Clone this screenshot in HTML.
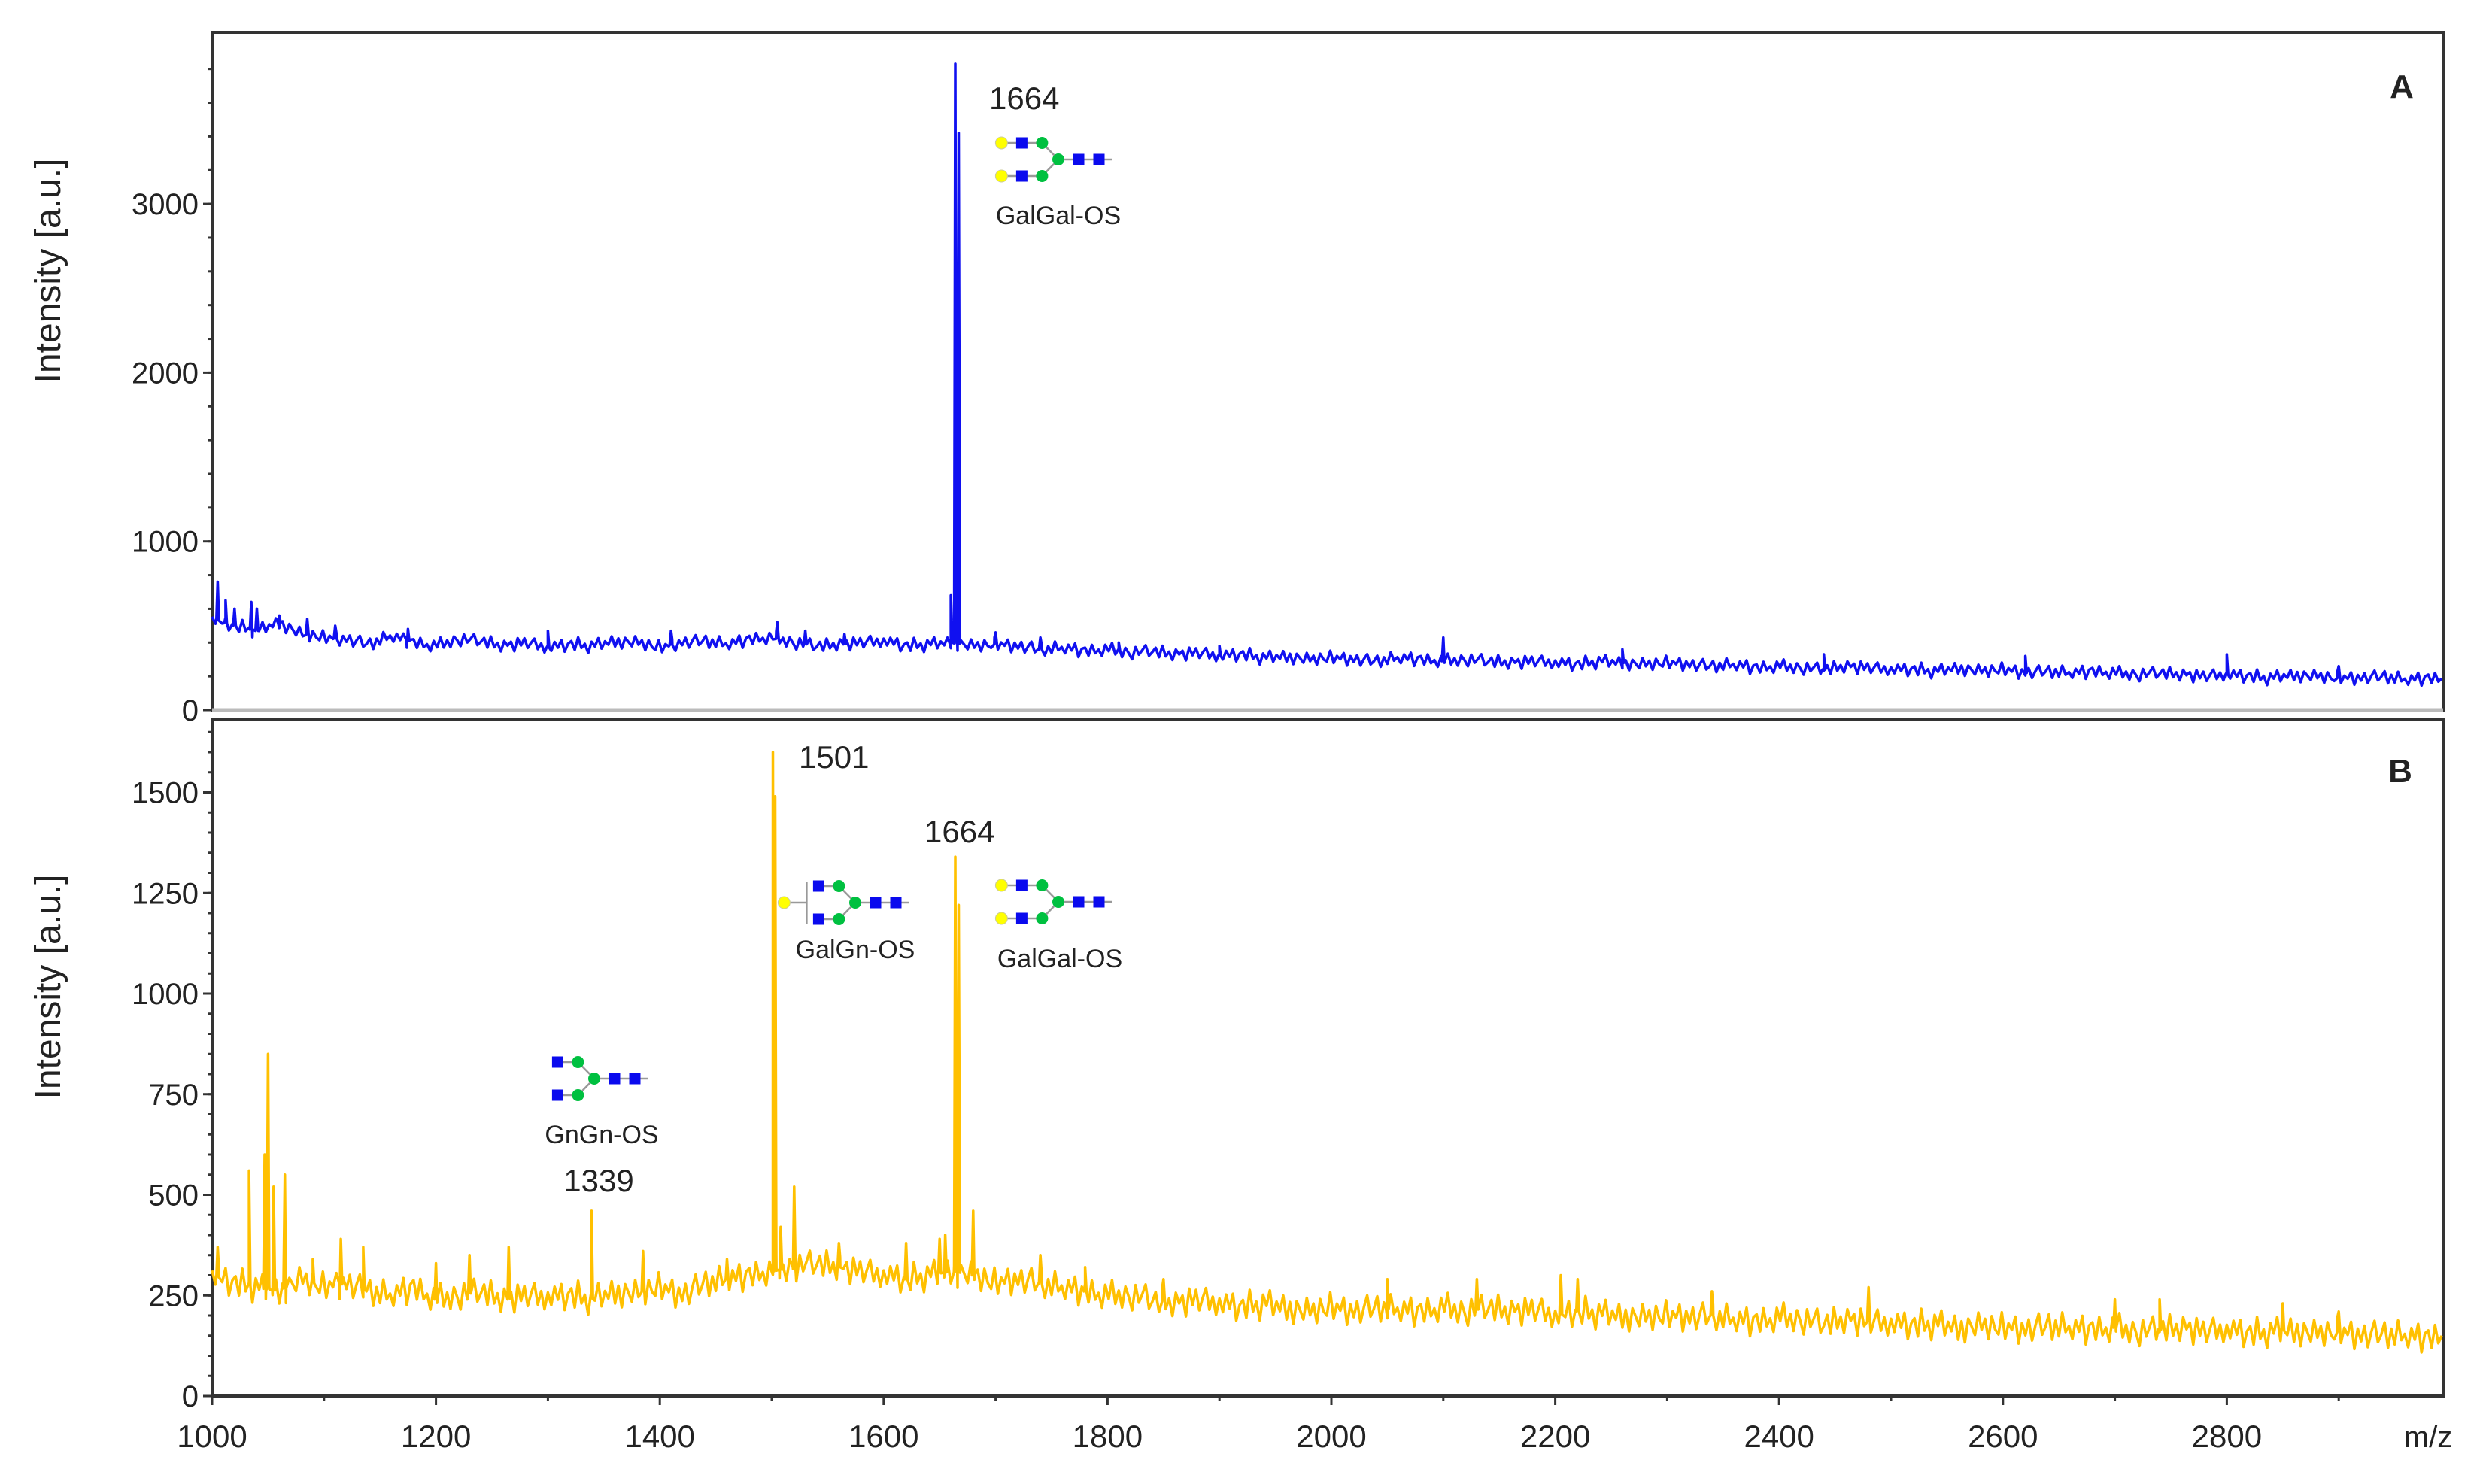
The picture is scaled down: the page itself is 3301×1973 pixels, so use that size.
<!DOCTYPE html>
<html><head><meta charset="utf-8"><style>
html,body{margin:0;padding:0;background:#fff}
svg{display:block}
text{font-family:"Liberation Sans",sans-serif;fill:#222}
</style></head><body>
<svg id="chart" width="3301" height="1973" viewBox="0 0 3301 1973" xmlns="http://www.w3.org/2000/svg">
<g id="root"></g>
</svg>
<script>
const mzStart = 1000, mzStep = 20;
const baselineA = [540,500,470,520,450,430,
420,390,440,400,380,420,410,380,400,370,
390,380,410,400,370,400,410,390,420,430,
400,380,390,400,410,380,390,400,380,390,
380,360,370,350,360,340,350,330,340,320,
330,310,320,300,310,300,290,310,300,290,
300,290,280,290,280,270,290,280,270,280,
270,260,270,250,260,250,240,260,250,240,
240,230,250,230,240,220,230,220,230,220,
210,220,210,200,210,200,190,210,200,190,
190,200,180,190,180];
const baselineB = [300,280,270,260,290,270,
280,260,250,270,240,250,260,240,250,245,
250,240,260,255,270,250,280,290,300,310,
320,330,320,310,300,290,300,310,300,280,
290,280,270,260,250,250,240,230,240,230,
220,230,220,210,220,210,220,215,210,220,
210,220,210,215,200,210,205,200,195,200,
195,200,190,185,195,190,180,190,185,180,
175,180,170,175,170,165,175,170,165,170,
160,165,170,160,165,155,160,165,155,160,
150,155,150,145,150];
// fine-scale noise offsets read as typical jitter (step 3 m/z, repeated)
const noiseStep = 3;
const noiseOffsets = [12,-20,25,-8,30,-35,5,18,-28,40,-15,8,-40,22,-5,35,-25,10,-12,28,
-30,15,-38,20,0,-22,33,-10,18,-32,26,-6,-18,38,-27,12,-4,30,-36,16,
-14,24,-30,6,34,-20,-2,28,-34,14,-24,36,-12,4,-28,20,-8,32,-38,10,
18,-26,30,-16,2,-33,25,-9,38,-21,12,-30,22,-4,-36,28,-14,8,34,-24,
-6,20,-28,36,-18,10,-32,26,-2,16,-37,30,-12,24,-26,6,32,-20,14,-30];
const noiseAmpA = 1.1, noiseAmpB = 1.0;
const peaksAmz = [1005,1012,1020,1035,1040,1060,1085,1110,1175,1300,1410,1505,1530,1565,1660,1664,1667,1700,1740,1810,1900,2100,2260,2440,2620,2800,2900];
const peaksAh  = [760,650,600,640,600,560,540,500,480,470,470,520,470,450,680,3830,3420,460,430,400,380,430,360,330,320,330,260];
const peaksBmz = [1005,1033,1047,1050,1055,1065,1090,1115,1135,1200,1230,1265,1339,1385,1460,1501,1503,1508,1520,1560,1620,1650,1655,1664,1667,1680,1740,1780,1850,2050,2130,2205,2220,2340,2480,2700,2740,2850,2900];
const peaksBh  = [370,560,600,850,520,550,340,390,370,330,350,370,460,360,340,1600,1490,420,520,380,380,390,400,1340,1220,460,350,320,290,290,290,300,290,260,270,240,240,230,210];
const yTicksA = [0,1000,2000,3000];
const yTicksB = [0,250,500,750,1000,1250,1500];
const xTicks = [1000,1200,1400,1600,1800,2000,2200,2400,2600,2800];

const NS = "http://www.w3.org/2000/svg";
const root = document.getElementById('root');
function mk(tag, attrs, parent){const e=document.createElementNS(NS,tag);for(const k in attrs)e.setAttribute(k,attrs[k]);(parent||root).appendChild(e);return e;}
const X0 = 282, PXU = 1.488, XR = 3248;
const xs = v => X0 + (v - 1000) * PXU;
const panelA = {top:43, y0:944, scale:0.2243};
const panelB = {top:956, y0:1856, scale:0.535};
const ysA = v => panelA.y0 - v * panelA.scale;
const ysB = v => panelB.y0 - v * panelB.scale;

function baseAt(arr, mz){const i=(mz-mzStart)/mzStep;const a=Math.max(0,Math.floor(i)),b=Math.min(a+1,arr.length-1);const f=i-a;return arr[a]*(1-f)+arr[b]*f;}
function buildPath(arr, pmz, ph, ys, amp){
  const pts=[];
  let k=0;
  for(let m=mzStart; m<=2994; m+=noiseStep){
    pts.push([m, baseAt(arr,m)+amp*noiseOffsets[k%noiseOffsets.length]]);
    k++;
  }
  pmz.forEach((m,i)=>{const b=baseAt(arr,m);pts.push([m-1.2,b]);pts.push([m,ph[i]]);pts.push([m+1.2,b]);});
  pts.sort((a,b)=>a[0]-b[0]);
  return pts.map((p,i)=>(i?'L':'M')+xs(p[0]).toFixed(1)+' '+ys(p[1]).toFixed(1)).join(' ');
}

const fA = mk('rect',{x:X0,y:panelA.top,width:XR-X0,height:panelA.y0-panelA.top,fill:'none',stroke:'#333','stroke-width':4});


const fB = mk('rect',{x:X0,y:panelB.top,width:XR-X0,height:panelB.y0-panelB.top,fill:'none',stroke:'#333','stroke-width':4});



function yAxis(ys, ticks, minorStep, maxV, name){
  const g = mk('g',{});
  
  
  for(let v=0; v<=maxV; v+=minorStep){
    mk('line',{x1:X0-6,y1:ys(v),x2:X0,y2:ys(v),stroke:'#333','stroke-width':3},g);
  }
  ticks.forEach(v=>{
    mk('line',{x1:X0-12,y1:ys(v),x2:X0,y2:ys(v),stroke:'#333','stroke-width':3},g);
    const t = mk('text',{x:X0-18,y:ys(v)+14,'text-anchor':'end','font-size':40},g);
    t.textContent = v;
    
    
  });
}
yAxis(ysA, yTicksA, 200, 3900, 'y-axis-a');
yAxis(ysB, yTicksB, 50, 1650, 'y-axis-b');

const gx = mk('g',{});


for(let v=1000; v<=2990; v+=100){
  mk('line',{x1:xs(v),y1:panelB.y0,x2:xs(v),y2:panelB.y0+(v%200===0?12:7),stroke:'#333','stroke-width':3},gx);
}
xTicks.forEach(v=>{
  const t = mk('text',{x:xs(v),y:1924,'text-anchor':'middle','font-size':42},gx);
  t.textContent = v;
  
  
});

const sA = mk('path',{d:buildPath(baselineA,peaksAmz,peaksAh,ysA,noiseAmpA),fill:'none',stroke:'#1010f0','stroke-width':3.5,'stroke-linejoin':'round'});


const sB = mk('path',{d:buildPath(baselineB,peaksBmz,peaksBh,ysB,noiseAmpB),fill:'none',stroke:'#ffc000','stroke-width':3.5,'stroke-linejoin':'round'});


const fAb = mk('line',{x1:X0,y1:panelA.y0,x2:XR,y2:panelA.y0,stroke:'#bbb','stroke-width':5});



function txt(s,x,y,size,name,anchor,weight){
  const t=mk('text',{x:x,y:y,'font-size':size,'text-anchor':anchor||'start','font-weight':weight||'normal'});
  t.textContent=s;
  
  
  return t;
}
const yl1 = txt('Intensity  [a.u.]',0,0,48,'y-axis-title-a','middle');
yl1.setAttribute('transform','translate(80,360) rotate(-90)');
const yl2 = txt('Intensity  [a.u.]',0,0,48,'y-axis-title-b','middle');
yl2.setAttribute('transform','translate(80,1312) rotate(-90)');
txt('A',3193,130,44,'panel-label-a','middle','bold');
txt('B',3191,1040,44,'panel-label-b','middle','bold');
txt('m/z',3228,1924,40,'x-axis-title','middle');
txt('1664',1315,145,42,'peak-label-1664-a');
txt('GalGal-OS',1407,298,34,'glycan-name-galgal-a','middle');
txt('1501',1062,1021,42,'peak-label-1501');
txt('1664',1229,1120,42,'peak-label-1664-b');
txt('GalGn-OS',1137,1274,34,'glycan-name-galgn','middle');
txt('GalGal-OS',1409,1286,34,'glycan-name-galgal-b','middle');
txt('GnGn-OS',800,1520,34,'glycan-name-gngn','middle');
txt('1339',796,1584,42,'peak-label-1339','middle');

function glycan(cx, cy, type, name){
  const g = mk('g',{transform:`translate(${cx},${cy})`});
  
  
  const s=27, d=22, r=8, q=15;
  const line=(x1,y1,x2,y2)=>mk('line',{x1,y1,x2,y2,stroke:'#999','stroke-width':2.5},g);
  line(0,0,2*s+18,0);
  [-1,1].forEach(k=>{
    line(0,0,-s*0.8,k*d);
    line(-s*0.8,k*d,type==='galgal'?-s*0.8-2*s:-s*0.8-s,k*d);
  });
  const circ=(x,y,c)=>mk('circle',{cx:x,cy:y,r:r,fill:c,stroke:c==='#ffff00'?'#cc9':'none','stroke-width':1},g);
  const sq=(x,y)=>mk('rect',{x:x-q/2,y:y-q/2,width:q,height:q,fill:'#0a0aee'},g);
  circ(0,0,'#00c040');
  sq(s,0); sq(2*s,0);
  [-1,1].forEach(k=>{
    circ(-s*0.8,k*d,'#00c040');
    sq(-s*0.8-s,k*d);
    if(type==='galgal') circ(-s*0.8-2*s,k*d,'#ffff00');
  });
  if(type==='galgn'){
    const bx=-s*0.8-s-16;
    line(bx,-d-6,bx,d+6);
    line(bx-26,0,bx,0);
    circ(bx-30,0,'#ffff00');
  }
}
glycan(1407,212,'galgal','glycan-icon-galgal-a');
glycan(1407,1199,'galgal','glycan-icon-galgal-b');
glycan(1137,1200,'galgn','glycan-icon-galgn');
glycan(790,1434,'gngn','glycan-icon-gngn');
</script>
</body></html>
